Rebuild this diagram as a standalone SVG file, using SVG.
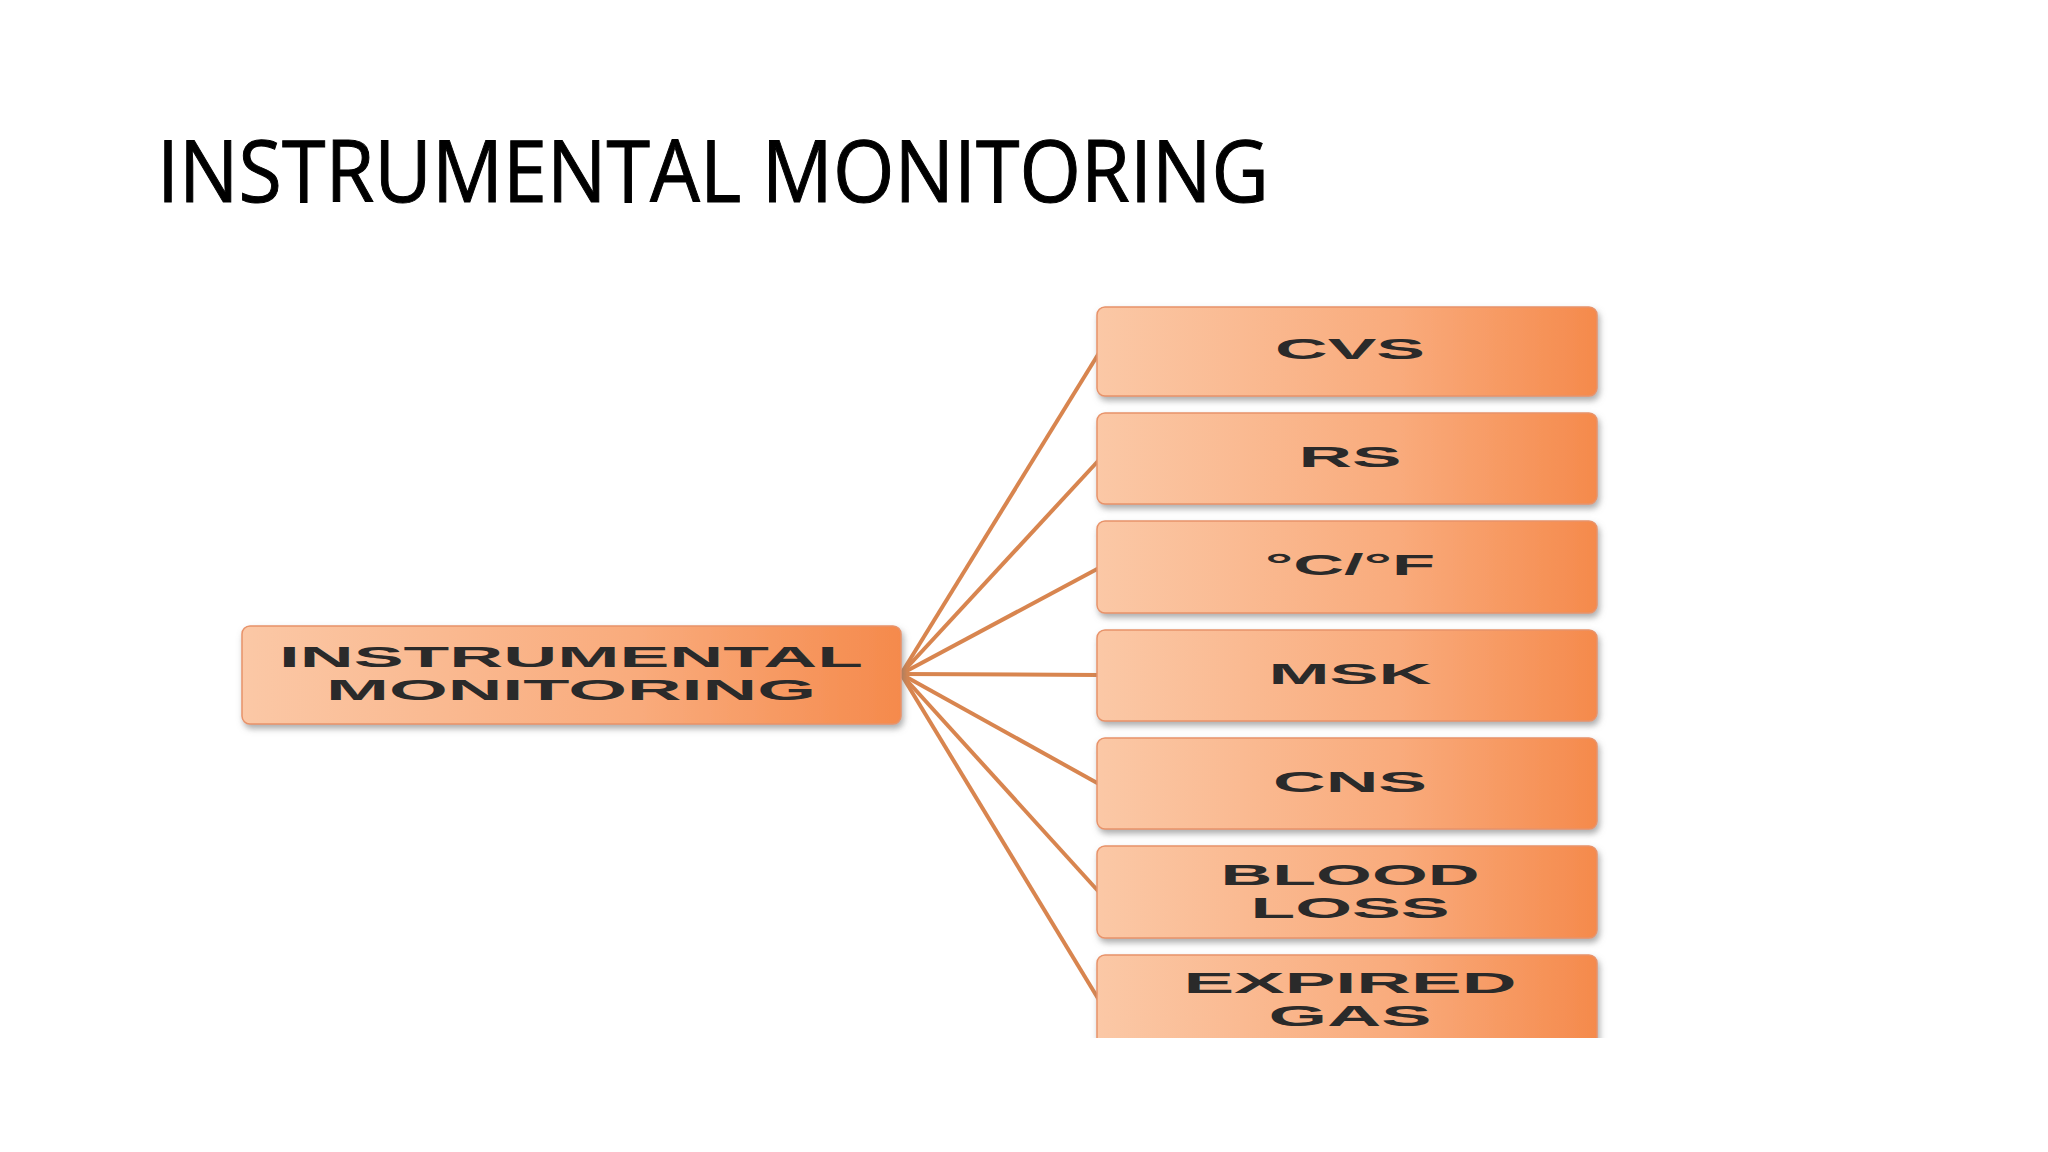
<svg xmlns="http://www.w3.org/2000/svg" width="2048" height="1152" viewBox="0 0 2048 1152">
<defs>
<linearGradient id="g" x1="0" x2="1" y1="0" y2="0">
<stop offset="0" stop-color="#fbc8a6"/><stop offset="0.6" stop-color="#f9ab7c"/><stop offset="1" stop-color="#f58a4c"/>
</linearGradient>
<filter id="sh" x="-5%" y="-10%" width="110%" height="130%"><feDropShadow dx="2" dy="4" stdDeviation="3" flood-color="#777" flood-opacity="0.6"/></filter>
</defs>
<style>
.b{fill:url(#g);stroke:#e8936a;stroke-width:1.5;filter:url(#sh)}
.t{font-family:"Liberation Sans",Arial,sans-serif;font-weight:bold;font-size:30px;fill:#2a2a2a;text-anchor:middle}
.c line{stroke:#d8854f;stroke-width:4}
</style>
<rect width="2048" height="1152" fill="#fff"/>
<text x="157" y="202" font-family="'Open Sans','Liberation Sans',sans-serif" font-size="86" fill="#000" stroke="#000" stroke-width="1" textLength="1112" lengthAdjust="spacingAndGlyphs">INSTRUMENTAL MONITORING</text>
<g class="c">
<line x1="901" y1="674" x2="1099" y2="353"/><line x1="901" y1="674" x2="1099" y2="460"/>
<line x1="901" y1="674" x2="1099" y2="568"/><line x1="901" y1="674" x2="1099" y2="675"/>
<line x1="901" y1="674" x2="1099" y2="784"/><line x1="901" y1="674" x2="1099" y2="892"/>
<line x1="901" y1="674" x2="1099" y2="1000"/>
</g>
<g id="root"><rect class="b" x="242" y="626" width="659" height="98" rx="8"/>
<text class="t" x="571" y="667" textLength="584" lengthAdjust="spacingAndGlyphs">INSTRUMENTAL</text><text class="t" x="571" y="700" textLength="490" lengthAdjust="spacingAndGlyphs">MONITORING</text></g>
<g id="cvs"><rect class="b" x="1097" y="307" width="500" height="89" rx="8"/><text class="t" x="1350" y="359" textLength="150" lengthAdjust="spacingAndGlyphs">CVS</text></g>
<g id="rs"><rect class="b" x="1097" y="413" width="500" height="91" rx="8"/><text class="t" x="1350" y="467" textLength="103" lengthAdjust="spacingAndGlyphs">RS</text></g>
<g id="temp"><rect class="b" x="1097" y="521" width="500" height="92" rx="8"/><text class="t" x="1350" y="575" textLength="170" lengthAdjust="spacingAndGlyphs">°C/°F</text></g>
<g id="msk"><rect class="b" x="1097" y="630" width="500" height="91" rx="8"/><text class="t" x="1350" y="684" textLength="163" lengthAdjust="spacingAndGlyphs">MSK</text></g>
<g id="cns"><rect class="b" x="1097" y="738" width="500" height="91" rx="8"/><text class="t" x="1350" y="792" textLength="154" lengthAdjust="spacingAndGlyphs">CNS</text></g>
<g id="blood"><rect class="b" x="1097" y="846" width="500" height="92" rx="8"/><text class="t" x="1350" y="885" textLength="259" lengthAdjust="spacingAndGlyphs">BLOOD</text><text class="t" x="1350" y="918" textLength="199" lengthAdjust="spacingAndGlyphs">LOSS</text></g>
<g id="gas"><rect class="b" x="1097" y="955" width="500" height="100" rx="8"/><text class="t" x="1350" y="993" textLength="333" lengthAdjust="spacingAndGlyphs">EXPIRED</text><text class="t" x="1350" y="1026" textLength="163" lengthAdjust="spacingAndGlyphs">GAS</text></g>
<rect x="1090" y="1038" width="520" height="40" fill="#fff"/>
</svg>
